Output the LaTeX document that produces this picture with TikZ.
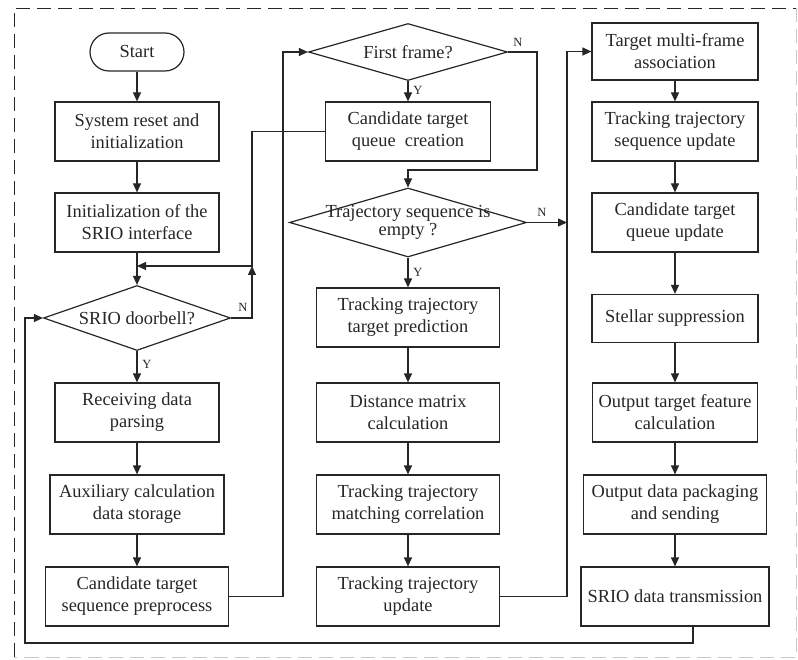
\documentclass[tikz,border=0pt]{standalone}
\usepackage{fontspec}
\setmainfont{Liberation Serif}
\usetikzlibrary{positioning,shapes.geometric,arrows.meta}
\definecolor{ink}{HTML}{262626}
\definecolor{rim}{HTML}{C8C8C8}

\begin{document}
\begin{tikzpicture}[x=1pt,y=1pt,
  every node/.style={inner sep=0pt,text=ink},
  box/.style={draw=ink,line width=1.2pt,align=center,minimum width=#1,minimum height=59pt,
    font=\fontsize{18.4}{22}\selectfont},
  box/.default=164pt,
  decision/.style={diamond,draw=ink,line width=1.2pt},
  flow/.style={draw=ink,line width=1.2pt,-{Triangle[length=9pt,width=8pt]}},
  link/.style={draw=ink,line width=1.2pt},
  yn/.style={font=\fontsize{12.5}{14}\selectfont}]
\useasboundingbox (0,0) rectangle (798,-660);
% dashed frame
\draw[ink,line width=0.9pt,dash pattern=on 14pt off 7pt] (14,-657) -- (14,-8) -- (796.5,-8);
\draw[rim,line width=0.9pt,dash pattern=on 14pt off 7pt] (796.5,-8) -- (796.5,-657) -- (14,-657);

% first column
\node[draw=ink,line width=1.2pt,rounded corners=19pt,minimum width=94pt,minimum height=38pt,
  font=\fontsize{18.4}{22}\selectfont] (start) at (137,-52) {Start};
\node[box] (reset) at (137,-131.5) {System reset and\\initialization};
\node[box] (srioinit) at (137,-222.5) {Initialization of the\\SRIO interface};
\node[decision,minimum width=187pt,minimum height=65pt,
  label={[font=\fontsize{18.4}{22}\selectfont]center:SRIO doorbell?}] (doorbell) at (137,-318) {};
\node[box] (receive) at (137,-412.5) {Receiving data\\parsing};
\node[box=174pt] (auxcalc) at (137,-504.5) {Auxiliary calculation\\data storage};
\node[box=183pt] (preproc) at (137,-596.5) {Candidate target\\sequence preprocess};

% second column
\node[decision,minimum width=199pt,minimum height=57pt,
  label={[font=\fontsize{18.4}{22}\selectfont]center:First frame?}] (firstframe) at (408,-52) {};
\node[box=165pt] (queuenew) at (408,-131.5) {Candidate target\\queue\ \ creation};
\node[decision,minimum width=237pt,minimum height=69pt,
  label={[align=center,font=\fontsize{18.4}{18}\selectfont]center:Trajectory sequence is\\empty ?}] (empty) at (408,-222.5) {};
\node[box=183pt] (predict) at (408,-317.5) {Tracking trajectory\\target prediction};
\node[box=183pt] (distance) at (408,-412.5) {Distance matrix\\calculation};
\node[box=183pt] (matching) at (408,-504.5) {Tracking trajectory\\matching correlation};
\node[box=183pt] (trajupd) at (408,-596.5) {Tracking trajectory\\update};

% third column
\node[box=166pt,minimum height=57pt] (multiframe) at (675,-51.5) {Target multi-frame\\association};
\node[box=166pt] (sequpd) at (675,-131.5) {Tracking trajectory\\sequence update};
\node[box=166pt] (queueupd) at (675,-222.5) {Candidate target\\queue update};
\node[box=166pt,minimum height=48pt] (stellar) at (675,-318.5) {Stellar suppression};
\node[box=165pt] (feature) at (675,-412.5) {Output target feature\\calculation};
\node[box=183pt] (packing) at (675,-504.5) {Output data packaging\\and sending};
\node[box=188pt] (transmit) at (675,-596.5) {SRIO data transmission};

\coordinate (join) at (252,-266);
\coordinate (up1) at (283,-52);
\coordinate (nfork) at (537,-170);
\coordinate (bus) at (567,-51.5);
\coordinate (back) at (25,-643);

\draw[flow] (start) -- (reset);
\draw[flow] (reset) -- (srioinit);
\draw[flow] (srioinit) -- (doorbell);
\draw[flow] (doorbell) -- (receive);
\draw[flow] (receive) -- (auxcalc);
\draw[flow] (auxcalc) -- (preproc);
\draw[flow] (doorbell.east) -| (join);
\draw[flow] (queuenew.west) -| (join) -- (srioinit.south |- join);
\draw[flow] (preproc.east) -| (up1) -- (firstframe.west);

\draw[flow] (firstframe) -- (queuenew);
\draw[flow] (firstframe.east) -| (nfork) -| (empty.north);
\draw[flow] (empty) -- (predict);
\draw[flow] (empty.east) -- (empty.east -| bus);
\draw[flow] (predict) -- (distance);
\draw[flow] (distance) -- (matching);
\draw[flow] (matching) -- (trajupd);
\draw[flow] (trajupd.east) -| (bus) -- (multiframe.west);

\draw[flow] (multiframe) -- (sequpd);
\draw[flow] (sequpd) -- (queueupd);
\draw[flow] (queueupd) -- (stellar);
\draw[flow] (stellar) -- (feature);
\draw[flow] (feature) -- (packing);
\draw[flow] (packing) -- (transmit);
\draw[flow] ([xshift=18pt]transmit.south) |- (back) |- (doorbell.west);

% branch labels
\node[yn] (n1) at (243,-307) {N};
\node[yn] (y1) at (147,-364) {Y};
\node[yn] (n2) at (518,-42) {N};
\node[yn] (y2) at (418,-90) {Y};
\node[yn] (n3) at (542,-212) {N};
\node[yn] (y3) at (418,-272) {Y};
\end{tikzpicture}
\end{document}
